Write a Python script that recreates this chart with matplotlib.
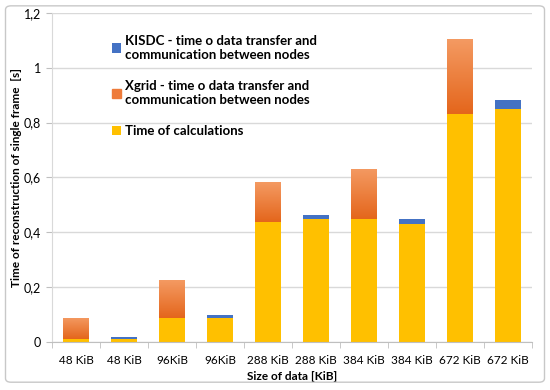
import numpy as np
import matplotlib.pyplot as plt
from matplotlib.patches import FancyBboxPatch
from matplotlib.colors import LinearSegmentedColormap

plt.rcParams['font.family'] = ['Lato', 'DejaVu Sans']

# data
sizes = ["48 KiB", "48 KiB", "96KiB", "96KiB", "288 KiB", "288 KiB",
         "384 KiB", "384 KiB", "672 KiB", "672 KiB"]
calc = [0.011, 0.010, 0.089, 0.088, 0.437, 0.449, 0.449, 0.432, 0.831, 0.849]
xgrid = [0.078, 0, 0.137, 0, 0.145, 0, 0.183, 0, 0.272, 0]
kisdc = [0, 0.008, 0, 0.012, 0, 0.014, 0, 0.017, 0, 0.035]

c_calc = "#FFC000"
c_kisdc = "#4472C4"
orange_cmap = LinearSegmentedColormap.from_list("og", ["#E4661C", "#F49A62"])

fig = plt.figure(figsize=(5.5, 3.9), dpi=100)
ax = fig.add_axes([0.095, 0.123, 0.872, 0.844])

x = np.arange(len(sizes))
w = 0.54
b1 = ax.bar(x, calc, w, color=c_calc, zorder=2, label="Time of calculations")
b2 = ax.bar(x, xgrid, w, bottom=calc, color="#EE8040", zorder=2,
            label="Xgrid - time o data transfer and\ncommunication between nodes")
b3 = ax.bar(x, kisdc, w, bottom=calc, color=c_kisdc, zorder=2,
            label="KISDC - time o data transfer and\ncommunication between nodes")

# gradient fill on the Xgrid parts
grad = np.linspace(0, 1, 100).reshape(-1, 1)
for p in b2.patches:
    if p.get_height() <= 0:
        continue
    x0, y0 = p.get_x(), p.get_y()
    im = ax.imshow(grad, cmap=orange_cmap, origin="lower", aspect="auto",
                   extent=[x0, x0 + p.get_width(), y0, y0 + p.get_height()],
                   zorder=2.1)
    im.set_clip_path(p)

ax.set_xlim(-0.5, len(sizes) - 0.5)
ax.set_ylim(0, 1.2)
ax.set_yticks(np.arange(0, 1.21, 0.2))
ax.set_yticklabels(["0", "0,2", "0,4", "0,6", "0,8", "1", "1,2"], fontsize=9)
ax.set_xticks(x)
ax.set_xticklabels(sizes, fontsize=8.5)
ax.set_xticks(np.arange(-0.5, len(sizes), 1), minor=True)
ax.tick_params(axis="x", which="major", length=0, pad=9)
ax.tick_params(axis="x", which="minor", length=4, color="#BFBFBF")
ax.tick_params(axis="y", length=4, color="#BFBFBF", pad=4)
ax.grid(axis="y", color="#D9D9D9", linewidth=1, zorder=0)
for s in ["top", "right"]:
    ax.spines[s].set_visible(False)
ax.spines["left"].set_color("#D9D9D9")
ax.spines["bottom"].set_color("#BFBFBF")

ax.set_xlabel("Size of data [KiB]", fontsize=8.5, fontweight="bold", labelpad=4)
ax.set_ylabel("Time of reconstruction of single frame  [s]", fontsize=8.5,
              fontweight="bold", labelpad=1)

handles = [b3, b2, b1]
leg = ax.legend(handles, [h.get_label() for h in handles], loc="upper left",
                bbox_to_anchor=(0.1, 0.97), frameon=False, handlelength=0.7,
                handleheight=0.7, handletextpad=0.3, labelspacing=1.45,
                prop={"weight": "bold", "size": 9.5})
leg.legend_handles[1].set_color("#EE7B3A")

# outer frame
fig.patches.append(FancyBboxPatch((0.01, 0.02), 0.98, 0.965,
                                  boxstyle="round,pad=0,rounding_size=0.01",
                                  transform=fig.transFigure, fill=False,
                                  edgecolor="#C8C8C8", linewidth=1))

fig.savefig("out.png", dpi=100)
